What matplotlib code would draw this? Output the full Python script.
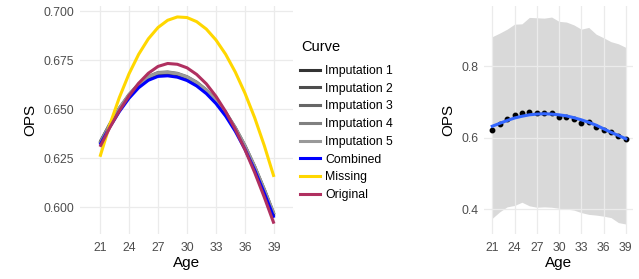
import matplotlib
matplotlib.use("Agg")
import matplotlib.pyplot as plt
from matplotlib.lines import Line2D

plt.rcParams['font.family'] = ['Liberation Sans', 'DejaVu Sans']

# ---------------- data ----------------
ages = list(range(21, 40))

imputation_1 = [0.6326, 0.6417, 0.6498, 0.6567, 0.6622, 0.6661, 0.6681, 0.6684, 0.6677, 0.6660,
                0.6632, 0.6593, 0.6542, 0.6478, 0.6400, 0.6307, 0.6200, 0.6081, 0.5954]
imputation_2 = [0.6332, 0.6422, 0.6503, 0.6571, 0.6625, 0.6663, 0.6683, 0.6686, 0.6679, 0.6662,
                0.6634, 0.6595, 0.6544, 0.6480, 0.6402, 0.6310, 0.6204, 0.6086, 0.5960]
imputation_3 = [0.6324, 0.6418, 0.6502, 0.6572, 0.6627, 0.6665, 0.6685, 0.6688, 0.6681, 0.6664,
                0.6636, 0.6597, 0.6546, 0.6482, 0.6404, 0.6312, 0.6206, 0.6088, 0.5962]
imputation_4 = [0.6330, 0.6424, 0.6507, 0.6576, 0.6630, 0.6668, 0.6688, 0.6691, 0.6684, 0.6667,
                0.6639, 0.6600, 0.6549, 0.6485, 0.6407, 0.6315, 0.6209, 0.6091, 0.5965]
imputation_5 = [0.6322, 0.6418, 0.6504, 0.6574, 0.6628, 0.6666, 0.6686, 0.6689, 0.6682, 0.6665,
                0.6637, 0.6598, 0.6547, 0.6483, 0.6405, 0.6313, 0.6207, 0.6089, 0.5963]
combined = [0.6318, 0.6408, 0.6488, 0.6556, 0.6610, 0.6648, 0.6668, 0.6671, 0.6664, 0.6647,
            0.6619, 0.6580, 0.6529, 0.6465, 0.6387, 0.6295, 0.6189, 0.6071, 0.5945]
missing = [0.6257, 0.6419, 0.6560, 0.6681, 0.6781, 0.6860, 0.6918, 0.6955, 0.6972, 0.6969,
           0.6948, 0.6910, 0.6854, 0.6781, 0.6690, 0.6582, 0.6457, 0.6314, 0.6154]
original = [0.6308, 0.6405, 0.6492, 0.6568, 0.6633, 0.6684, 0.6719, 0.6734, 0.6730, 0.6712,
            0.6678, 0.6630, 0.6566, 0.6488, 0.6397, 0.6293, 0.6177, 0.6050, 0.5915]

curve_names = ["Imputation 1", "Imputation 2", "Imputation 3", "Imputation 4",
               "Imputation 5", "Combined", "Missing", "Original"]
curve_colors = ["#333333", "#4D4D4D", "#666666", "#808080", "#999999",
                "#0000FF", "#FFD700", "#B03060"]

# right panel
obs_mean = [0.622, 0.637, 0.653, 0.6645, 0.668, 0.671, 0.668, 0.668, 0.669, 0.657,
            0.659, 0.653, 0.640, 0.645, 0.629, 0.622, 0.617, 0.604, 0.597]
smooth_fit = [0.632, 0.640, 0.648, 0.655, 0.660, 0.664, 0.666, 0.667, 0.666, 0.664,
              0.661, 0.656, 0.650, 0.643, 0.635, 0.625, 0.615, 0.606, 0.597]
band_low = [0.374, 0.392, 0.406, 0.410, 0.419, 0.409, 0.405, 0.406, 0.405, 0.402,
            0.400, 0.397, 0.390, 0.385, 0.383, 0.380, 0.376, 0.362, 0.358]
band_high = [0.883, 0.893, 0.904, 0.918, 0.919, 0.937, 0.936, 0.935, 0.938, 0.926,
             0.924, 0.916, 0.904, 0.909, 0.890, 0.880, 0.869, 0.863, 0.853]

x_ticks = [21, 24, 27, 30, 33, 36, 39]
left_y_ticks = [0.600, 0.625, 0.650, 0.675, 0.700]
right_y_ticks = [0.4, 0.6, 0.8]

# ---------------- figure ----------------
W, H = 639, 279
fig = plt.figure(figsize=(W / 100, H / 100), dpi=100)

def px_axes(x0, x1, y0, y1):
    return fig.add_axes([x0 / W, 1 - y1 / H, (x1 - x0) / W, (y1 - y0) / H])

grid_col = "#EBEBEB"
tick_col = "#4D4D4D"

def style(ax):
    for s in ax.spines.values():
        s.set_visible(False)
    ax.grid(True, color=grid_col, linewidth=0.9)
    ax.tick_params(length=0, labelsize=8.8, colors=tick_col, pad=5.5)
    ax.tick_params(axis='y', pad=4.5)
    ax.set_xlabel("Age", fontsize=11, labelpad=2)
    ax.set_ylabel("OPS", fontsize=11, labelpad=4)

# left panel
ax1 = px_axes(80, 293.3, 6, 234)
series = [imputation_1, imputation_2, imputation_3, imputation_4, imputation_5,
          combined, missing, original]
for vals, col in zip(series, curve_colors):
    ax1.plot(ages, vals, color=col, linewidth=2.2, solid_capstyle='butt',
             solid_joinstyle='round')
ax1.set_xlim(18.93, 41.0)
ax1.set_ylim(0.5862, 0.7028)
ax1.set_xticks(x_ticks)
ax1.set_yticks(left_y_ticks)
ax1.set_yticklabels([f"{v:.3f}" for v in left_y_ticks])
style(ax1)

handles = [Line2D([], [], color=c, linewidth=2.2) for c in curve_colors]
leg = fig.legend(handles, curve_names, loc='upper left',
                 bbox_to_anchor=(299.5 / W, 1 - 65 / H), frameon=False,
                 fontsize=8.8, handlelength=1.65,
                 handletextpad=0.45, labelspacing=0.47, borderpad=0,
                 borderaxespad=0)
fig.text(301.5 / W, 1 - 47 / H, "Curve", fontsize=10.5, ha='left', va='center')

# right panel
ax2 = px_axes(484.3, 632.5, 6, 234)
ax2.fill_between(ages, band_low, band_high, color="#D9D9D9", linewidth=0, zorder=1)
ax2.plot(ages, obs_mean, 'o', color='black', markersize=3.2, zorder=2)
ax2.plot(ages, smooth_fit, color="#3366FF", linewidth=2.2, zorder=3,
         solid_joinstyle='round')
ax2.set_xlim(19.93, 39.9)
ax2.set_ylim(0.330, 0.969)
ax2.set_xticks(x_ticks)
ax2.set_yticks(right_y_ticks)
ax2.set_yticklabels([f"{v:.1f}" for v in right_y_ticks])
style(ax2)

fig.savefig("out.png", dpi=100)
